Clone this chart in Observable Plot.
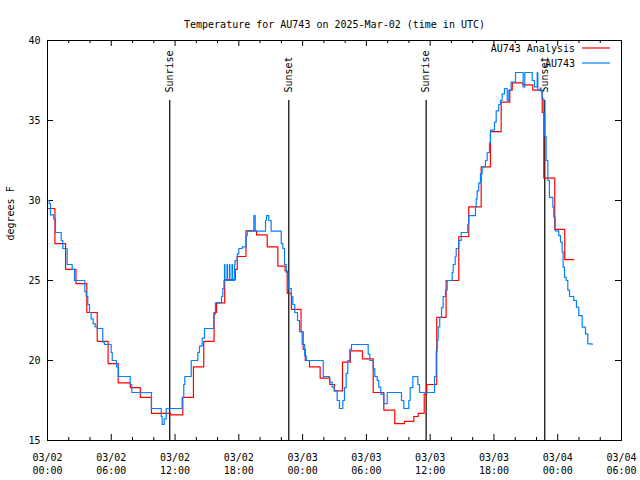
<!DOCTYPE html>
<html><head><meta charset="utf-8">
<script src="https://cdn.jsdelivr.net/npm/d3@7"></script>
<script src="https://cdn.jsdelivr.net/npm/@observablehq/plot@0.6"></script>
<style>body{margin:0;background:#fff} svg{display:block}</style>
</head><body><div id="chart"></div>
<script>
const title = "Temperature for AU743 on 2025-Mar-02 (time in UTC)";
const yLabel = "degrees F";
const startUTC = Date.UTC(2025, 2, 2, 0, 0, 0);
const xDomainHours = [0, 54];
const xMajorHours = [0, 6, 12, 18, 24, 30, 36, 42, 48, 54];
const xMinorHours = [2, 4, 8, 10, 14, 16, 20, 22, 26, 28, 32, 34, 38, 40, 44, 46, 50, 52];
const yTicks = [15, 20, 25, 30, 35, 40];
const seriesNames = ["AU743 Analysis", "AU743"];
const seriesColors = ["#ff0000", "#0080ff"];

const analysisHours = [0.1,0.7,1.7,2.68,3.7,4.68,5.7,6.65,7.79,8.73,9.78,11.6,12.73,13.73,14.7,15.67,15.9,16.67,17.67,17.85,18.67,19.67,20.67,21.67,22.35,22.55,22.95,23.85,24.05,24.25,24.65,25.65,26.56,27.0,27.75,28.5,29.63,30.64,31.64,32.67,33.58,34.46,34.87,35.44,35.68,36.62,37.5,38.69,39.63,40.8,41.67,42.68,43.49,43.72,44.71,45.65,46.54,46.69,47.72,48.66,49.51];
const analysisTemps = [29.5,27.3,25.7,24.8,23.0,21.2,19.8,18.6,18.3,17.7,16.7,16.6,17.7,19.6,21.2,23.0,23.6,25.05,25.7,26.5,28.1,27.85,27.1,25.9,25.6,24.2,23.2,21.8,20.7,20.0,19.6,18.9,18.5,18.1,19.9,20.6,20.1,18.0,16.9,16.06,16.2,16.5,16.7,17.9,18.5,22.7,25.0,27.75,29.6,32.1,34.3,36.15,36.9,37.35,37.23,36.9,35.5,31.4,28.2,26.3,26.3];

const obsHours = [0.03,0.16,0.28,0.59,0.75,1.29,1.44,1.85,2.32,2.54,3.51,3.64,3.79,3.95,4.11,4.30,4.49,4.68,5.20,5.36,5.99,6.09,6.49,6.68,7.78,7.93,9.78,10.70,10.79,10.98,11.17,12.67,12.82,12.92,13.52,14.14,14.30,14.55,14.77,15.64,15.80,16.37,16.49,16.6,16.65,16.69,16.89,16.93,17.12,17.16,17.36,17.4,17.59,17.64,17.85,18.0,18.32,18.69,18.79,19.41,19.54,20.51,20.6,20.82,21.04,21.99,22.14,22.3,22.46,22.61,22.7,22.93,23.08,23.26,23.52,23.71,23.96,24.2,24.34,25.94,26.53,26.78,26.97,27.25,27.47,27.78,27.94,28.1,28.25,28.44,28.6,30.17,30.32,30.64,30.79,31.02,31.17,31.35,31.64,31.96,33.3,33.52,33.99,34.12,34.37,34.84,35.0,36.41,36.57,36.66,36.75,36.9,37.07,37.22,37.44,37.6,38.07,38.17,38.35,38.45,38.69,38.92,39.54,39.63,40.26,40.33,40.42,40.57,40.73,40.89,41.2,41.36,41.58,41.67,42.05,42.21,42.45,42.61,42.77,42.99,43.25,43.4,43.62,44.03,44.75,44.9,45.6,45.81,46.07,46.13,46.54,46.69,46.78,46.91,47.07,47.22,47.54,47.63,47.76,48.1,48.26,48.42,48.51,48.64,48.8,48.95,49.11,49.51,49.76,49.98,50.3,50.61,50.83,51.24];
const obsTemps = [30.0,29.8,29.1,28.85,28.0,27.5,27.0,26.0,25.7,25.0,24.3,24.0,23.5,23.0,22.6,22.3,22.1,22.0,21.15,21.0,20.5,20.0,19.6,19.0,18.5,18.0,17.0,16.5,16.0,16.35,17.0,17.7,18.5,19.0,20.0,20.5,20.9,21.4,22.0,22.9,23.6,24.0,24.5,25.0,26.0,25.0,26.0,25.0,26.0,25.0,26.0,25.0,26.0,26.25,26.67,27.0,27.1,27.8,28.08,29.06,28.08,28.75,29.06,28.75,28.08,27.3,27.0,26.0,25.5,24.9,24.5,24.0,23.5,23.0,22.5,21.8,21.0,20.3,20.0,19.0,18.65,18.33,18.1,17.5,17.0,17.5,18.3,19.2,20.0,20.7,21.0,20.4,20.0,19.5,19.0,18.75,18.33,17.9,17.3,18.0,17.5,17.0,17.5,18.3,19.0,18.5,18.0,19.0,20.6,21.25,22.1,22.7,23.3,24.0,24.4,25.0,25.5,26.0,26.5,27.0,27.5,28.0,28.5,29.06,29.6,30.1,30.6,31.1,31.67,32.1,32.5,33.0,33.6,34.4,34.9,35.6,36.0,36.25,36.67,37.0,36.25,36.9,37.4,38.0,37.1,38.0,37.5,37.1,38.0,36.9,36.35,35.4,34.0,32.5,31.25,30.2,29.58,28.96,28.1,27.8,27.4,26.77,25.83,25.2,25.0,24.4,24.0,23.75,23.33,22.8,22.08,21.67,21.04,21.0];

const sunEventHours = [11.5, 22.7, 35.62, 46.78];
const sunEventNames = ["Sunrise", "Sunset", "Sunrise", "Sunset"];

const toDate = h => new Date(startUTC + h * 3600e3);
const analysis = analysisHours.map((h, i) => ({t: toDate(h), v: analysisTemps[i]}));
const obs = obsHours.map((h, i) => ({t: toDate(h), v: obsTemps[i]}));
const sunEvents = sunEventHours.map((h, i) => ({t: toDate(h), name: sunEventNames[i]}));
const xMajor = xMajorHours.map(toDate);
const xMinor = xMinorHours.map(toDate);

const W = 640, H = 480, mL = 47, mR = 19, mT = 40, mB = 40;
const plotW = W - mL - mR, plotH = H - mT - mB;
const font = "'DejaVu Sans Mono', 'Liberation Mono', monospace";

const legend = (index, scales, values, dims) => {
  const g = d3.create("svg:g").attr("font-family", font).attr("font-size", 10);
  const xr = dims.width - dims.marginRight;
  seriesNames.forEach((name, i) => {
    const y = dims.marginTop + 8 + i * 15;
    g.append("text").attr("x", xr - 46).attr("y", y).attr("dy", "0.35em")
      .attr("text-anchor", "end").attr("fill", "#000").text(name);
    g.append("line").attr("x1", xr - 39).attr("x2", xr - 11).attr("y1", y).attr("y2", y)
      .attr("stroke", seriesColors[i]).attr("stroke-width", 1.2);
  });
  return g.node();
};

const chart = Plot.plot({
  width: W, height: H, marginLeft: mL, marginRight: mR, marginTop: mT, marginBottom: mB,
  style: {fontFamily: font, fontSize: "10px", background: "#fff", color: "#000"},
  x: {type: "utc", domain: xDomainHours.map(toDate)},
  y: {domain: [yTicks[0], yTicks[yTicks.length - 1]]},
  marks: [
    Plot.axisX(xMajor, {anchor: "bottom", tickSize: 0, tickPadding: 11, lineHeight: 1.3,
      tickFormat: d3.utcFormat("%m/%d\n%H:%M"), label: null, fill: "#000"}),
    Plot.axisY(yTicks, {anchor: "left", tickSize: 0, tickPadding: 7, label: null, fill: "#000"}),
    Plot.ruleX(xMajor, {x: d => d, insetTop: plotH - 6, stroke: "#000"}),
    Plot.ruleX(xMinor, {x: d => d, insetTop: plotH - 3, stroke: "#000"}),
    Plot.ruleX(xMajor, {x: d => d, insetBottom: plotH - 6, stroke: "#000"}),
    Plot.ruleX(xMinor, {x: d => d, insetBottom: plotH - 3, stroke: "#000"}),
    Plot.ruleY(yTicks, {y: d => d, insetRight: plotW - 6, stroke: "#000"}),
    Plot.ruleY(yTicks, {y: d => d, insetLeft: plotW - 6, stroke: "#000"}),
    Plot.ruleX(sunEvents, {x: "t", insetTop: 60, stroke: "#000", strokeWidth: 1.2}),
    Plot.text(sunEvents, {x: "t", text: "name", frameAnchor: "top", dy: 52, rotate: -90,
      textAnchor: "start", lineAnchor: "middle", fill: "#000"}),
    Plot.line(analysis, {x: "t", y: "v", curve: "step-after", stroke: seriesColors[0], strokeWidth: 1.2}),
    Plot.line(obs, {x: "t", y: "v", curve: "step-after", stroke: seriesColors[1], strokeWidth: 1.2}),
    Plot.frame({stroke: "#000"}),
    Plot.text([title], {frameAnchor: "top", dy: -20, fill: "#000"}),
    Plot.text([yLabel], {frameAnchor: "left", dx: -37, rotate: -90, fill: "#000"}),
    legend
  ]
});
document.getElementById("chart").appendChild(chart);
</script>
</body></html>
